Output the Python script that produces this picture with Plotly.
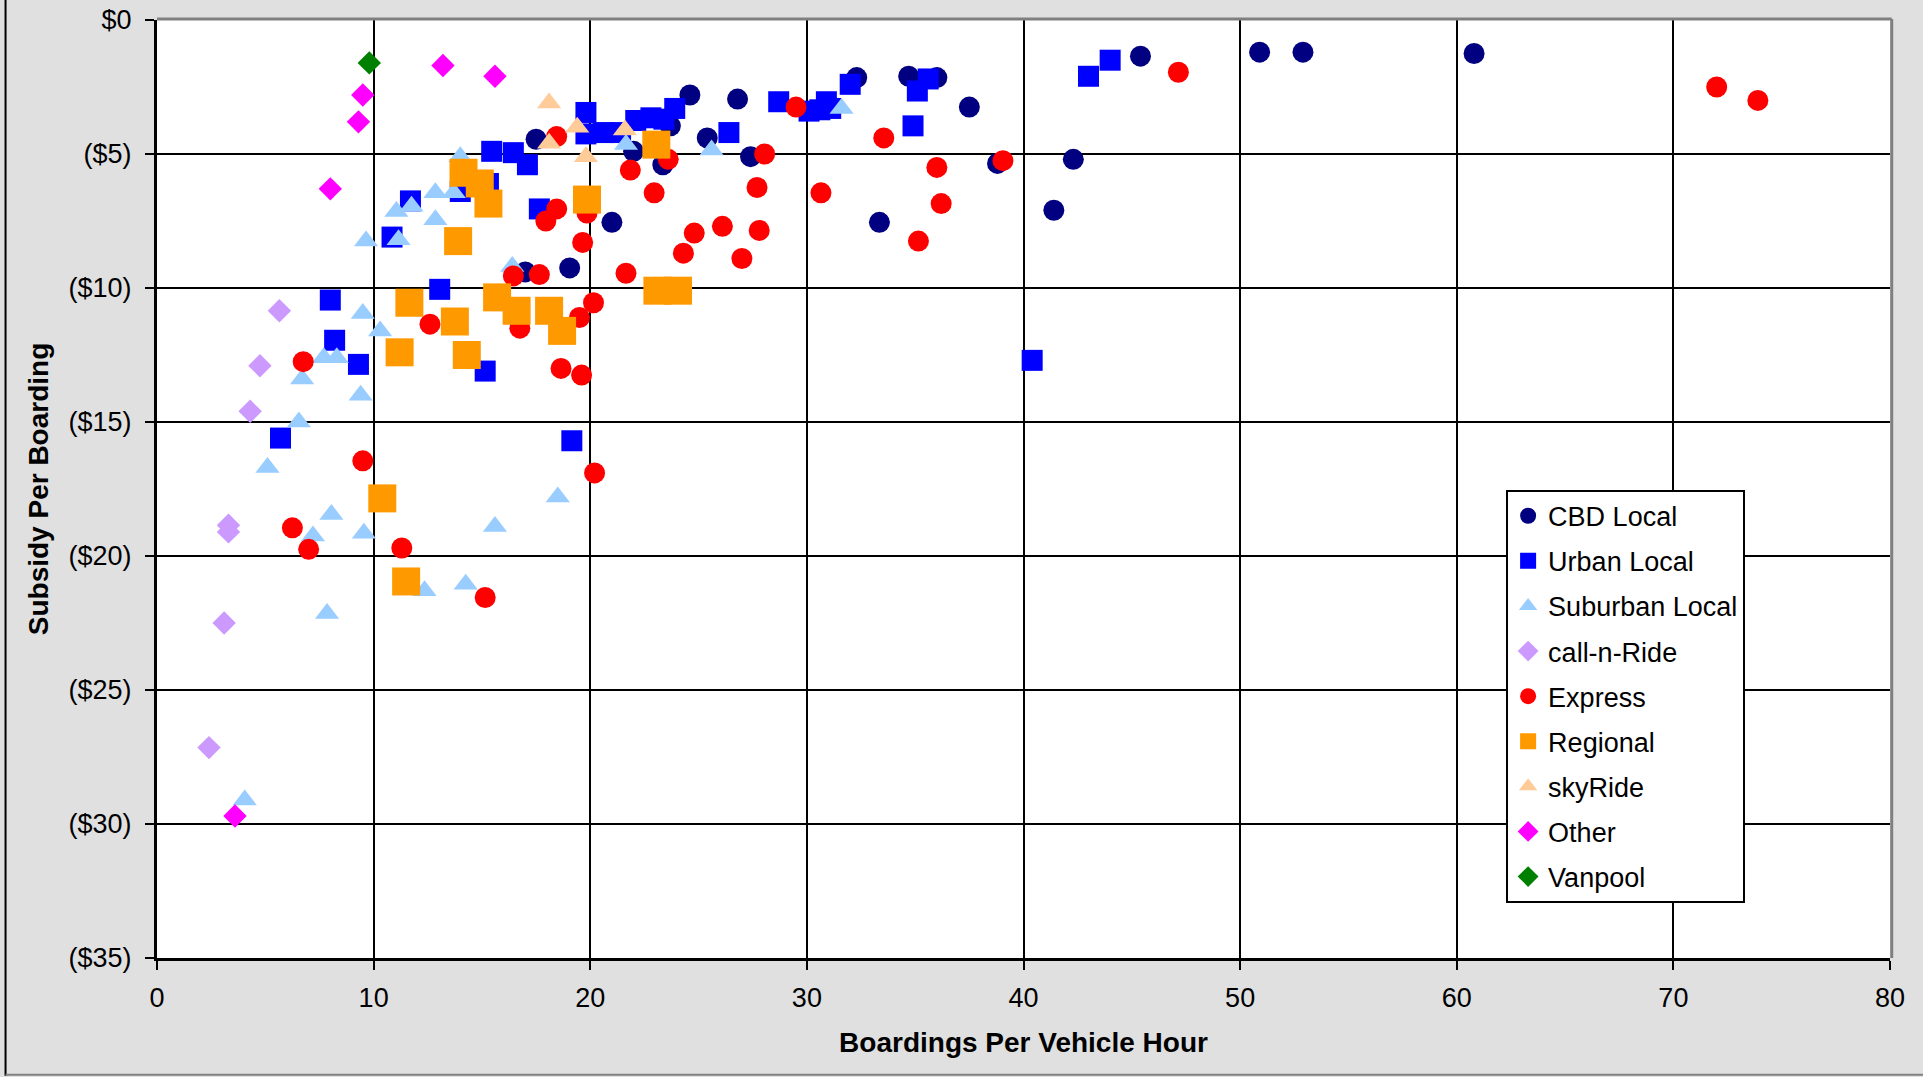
import plotly.graph_objects as go

# ---------------- data (Boardings per vehicle hour, Subsidy per boarding) ----------------
cbd_x = [17.0, 17.5, 19.05, 21.0, 22.0, 23.35, 23.7, 24.6, 25.4, 26.8, 27.4, 32.3, 33.35,
         34.7, 36.0, 37.5, 38.8, 41.4, 42.3, 45.4, 50.9, 52.9, 60.8]
cbd_y = [-9.4, -4.45, -9.25, -7.55, -4.9, -5.4, -3.95, -2.8, -4.4, -2.95, -5.1, -2.15, -7.55,
         -2.1, -2.15, -3.25, -5.35, -7.1, -5.2, -1.35, -1.2, -1.2, -1.25]

urban_x = [5.7, 8.0, 8.2, 9.3, 10.85, 11.7, 13.05, 14.0, 15.15, 15.3, 15.45, 16.45, 17.1, 17.65,
           19.15, 19.8, 19.8, 20.6, 21.4, 22.1, 22.8, 23.4, 23.9, 26.4, 28.7, 30.1, 30.6, 30.9,
           31.1, 32.0, 34.9, 35.1, 35.6, 40.4, 43.0, 44.0]
urban_y = [-15.6, -10.45, -11.95, -12.85, -8.1, -6.75, -10.05, -6.4, -13.1, -6.1, -4.9, -4.95,
           -5.4, -7.05, -15.7, -3.45, -4.25, -4.2, -4.2, -3.75, -3.65, -3.7, -3.3, -4.2, -3.05,
           -3.4, -3.35, -3.05, -3.3, -2.4, -3.95, -2.65, -2.2, -12.7, -2.1, -1.5]

suburban_x = [9.65, 11.15, 11.05, 11.75, 12.85, 13.7, 12.85, 14.0, 16.4, 9.5, 10.3, 7.7, 8.3,
              6.7, 9.4, 6.55, 5.1, 8.05, 7.2, 9.55, 7.85, 12.35, 14.25, 15.6, 18.5, 4.05,
              21.65, 25.6, 31.6]
suburban_y = [-8.25, -8.2, -7.15, -6.95, -6.45, -6.45, -7.45, -5.1, -9.2, -10.95, -11.6, -12.6,
              -12.6, -13.4, -14.0, -15.0, -16.7, -18.45, -19.25, -19.15, -22.15, -21.3, -21.05,
              -18.9, -17.8, -29.1, -4.65, -4.85, -3.3]

callnride_x = [5.65, 4.75, 4.3, 3.3, 3.3, 3.1, 2.4]
callnride_y = [-10.85, -12.9, -14.6, -18.85, -19.1, -22.5, -27.15]

express_x = [6.75, 12.6, 16.45, 17.65, 16.75, 18.45, 18.45, 17.95, 19.85, 19.65, 21.65, 21.85,
             22.95, 23.6, 24.3, 24.8, 26.1, 27.0, 27.8, 27.7, 28.05, 29.5, 30.65, 33.55, 20.15,
             19.5, 18.65, 19.6, 35.15, 36.0, 36.2, 39.05, 47.15, 72.0, 73.9, 9.5, 6.25, 7.0,
             11.3, 15.15, 20.2]
express_y = [-12.75, -11.35, -9.55, -9.5, -11.5, -4.35, -7.05, -7.5, -7.2, -8.3, -9.45, -5.6,
             -6.45, -5.2, -8.7, -7.95, -7.7, -8.9, -7.85, -6.25, -5.0, -3.25, -6.45, -4.4, -10.55,
             -11.1, -13.0, -13.25, -8.25, -5.5, -6.85, -5.25, -1.95, -2.5, -3.0, -16.45, -18.95,
             -19.75, -19.7, -21.55, -16.9]

regional_x = [14.15, 14.9, 15.3, 13.9, 11.65, 13.75, 11.2, 14.3, 15.7, 16.6, 18.1, 18.7, 19.85,
              23.05, 23.1, 24.05, 10.4, 11.5]
regional_y = [-5.7, -6.1, -6.85, -8.25, -10.55, -11.25, -12.4, -12.5, -10.35, -10.85, -10.85,
              -11.6, -6.7, -4.65, -10.1, -10.1, -17.85, -20.95]

skyride_x = [18.1, 19.4, 18.1, 21.6, 19.8]
skyride_y = [-3.1, -4.0, -4.6, -4.1, -5.1]

other_x = [13.2, 15.6, 9.5, 9.3, 8.0, 3.6]
other_y = [-1.7, -2.1, -2.8, -3.8, -6.3, -29.7]

vanpool_x = [9.8]
vanpool_y = [-1.6]

y_tick_vals = [0, -5, -10, -15, -20, -25, -30, -35]
y_tick_text = ["$0", "($5)", "($10)", "($15)", "($20)", "($25)", "($30)", "($35)"]
x_tick_vals = [0, 10, 20, 30, 40, 50, 60, 70, 80]

# ---------------- styles ----------------
FONT = "Arial, 'Liberation Sans', sans-serif"
series = [
    ("CBD Local", cbd_x, cbd_y, "circle", 21, "#000080"),
    ("Urban Local", urban_x, urban_y, "square", 21, "#0000FF"),
    ("Suburban Local", suburban_x, suburban_y, "triangle-up", 21, "#99CCFF"),
    ("call-n-Ride", callnride_x, callnride_y, "diamond", 18, "#CC99FF"),
    ("Express", express_x, express_y, "circle", 21, "#FF0000"),
    ("Regional", regional_x, regional_y, "square", 28, "#FF9900"),
    ("skyRide", skyride_x, skyride_y, "triangle-up", 21, "#FFCC99"),
    ("Other", other_x, other_y, "diamond", 18, "#FF00FF"),
    ("Vanpool", vanpool_x, vanpool_y, "diamond", 18, "#008000"),
]

fig = go.Figure()
for name, xs, ys, sym, size, col in series:
    fig.add_trace(go.Scatter(
        x=xs, y=ys, mode="markers", name=name, legendgroup=name,
        marker=dict(symbol=sym, size=size, color=col, line=dict(width=0)),
    ))

W, H = 1923, 1077
ML, MR, MT, MB = 156.5, 33, 20.3, 118.7
PW, PH = W - ML - MR, H - MT - MB


def px_x(p):
    return (p - ML) / PW


def px_y(p):
    return (H - MB - p) / PH


fig.update_layout(
    width=W, height=H,
    margin=dict(l=ML, r=MR, t=MT, b=MB, autoexpand=False),
    paper_bgcolor="#E0E0E0",
    plot_bgcolor="#FFFFFF",
    font=dict(family=FONT, size=27, color="#000000"),
    showlegend=True,
    legend=dict(
        x=px_x(1506), y=px_y(490), xanchor="left", yanchor="top",
        bgcolor="#FFFFFF", bordercolor="#000000", borderwidth=2,
        font=dict(family=FONT, size=27, color="#000000"),
        tracegroupgap=7, traceorder="grouped",
    ),
    xaxis=dict(
        range=[0, 80], tickmode="array", tickvals=x_tick_vals,
        showgrid=True, gridcolor="#000000", gridwidth=1.6,
        zeroline=False, showline=True, linecolor="#000000", linewidth=3,
        ticks="outside", ticklen=9, tickwidth=1.6, tickcolor="#000000",
        tickfont=dict(family=FONT, size=27),
        ticklabelstandoff=5,
        title=dict(text="<b>Boardings Per Vehicle Hour</b>",
                   font=dict(family=FONT, size=28), standoff=20),
        automargin=False,
    ),
    yaxis=dict(
        range=[-35, 0], tickmode="array", tickvals=y_tick_vals, ticktext=y_tick_text,
        showgrid=True, gridcolor="#000000", gridwidth=1.6,
        zeroline=False, showline=True, linecolor="#000000", linewidth=3,
        ticks="outside", ticklen=9, tickwidth=1.6, tickcolor="#000000",
        tickfont=dict(family=FONT, size=27),
        ticklabelstandoff=8,
        title=dict(text="<b>Subsidy Per Boarding</b>",
                   font=dict(family=FONT, size=28), standoff=12),
        automargin=False,
    ),
    shapes=[
        # plot-area shadow border (top and right)
        dict(type="line", xref="paper", yref="paper", x0=0, x1=1.001, y0=1.001, y1=1.001,
             line=dict(color="#808080", width=3), layer="above"),
        dict(type="line", xref="paper", yref="paper", x0=1.001, x1=1.001, y0=0, y1=1.001,
             line=dict(color="#808080", width=3), layer="above"),
        # chart-area border (left and bottom)
        dict(type="line", xref="paper", yref="paper", x0=px_x(5), x1=px_x(5), y0=px_y(0), y1=px_y(1076),
             line=dict(color="#000000", width=2), layer="above"),
        dict(type="line", xref="paper", yref="paper", x0=px_x(5), x1=px_x(1923), y0=px_y(1075), y1=px_y(1075),
             line=dict(color="#808080", width=2), layer="above"),
    ],
)

fig.write_html(
    "out.html",
    config={"displayModeBar": False},
    post_script="document.body.style.margin='0';document.body.style.overflow='hidden';",
)
